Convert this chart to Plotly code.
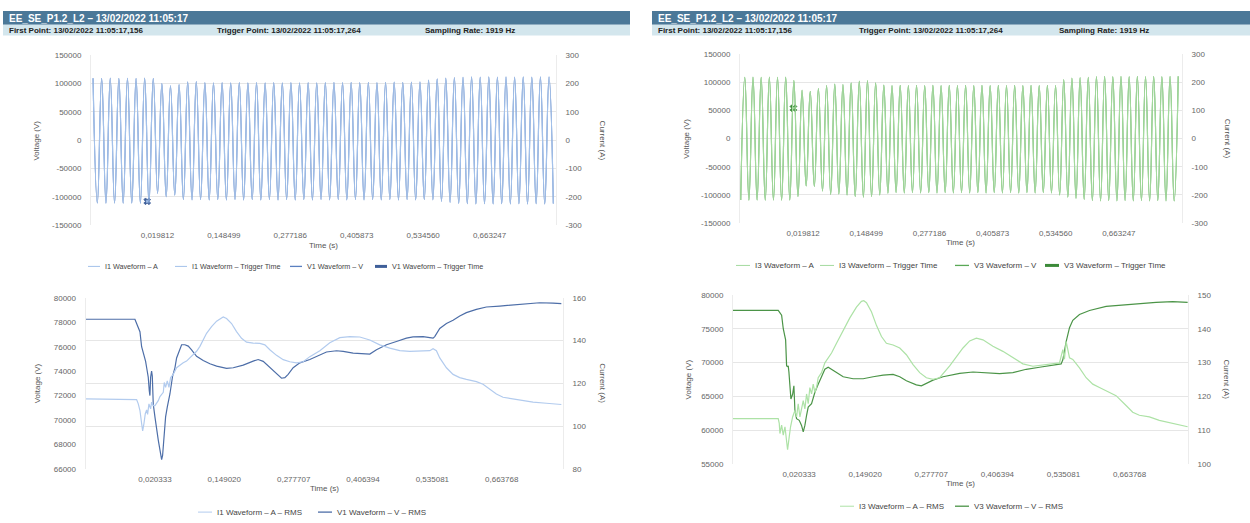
import plotly.graph_objects as go

W, H = 1250, 523
FONT = "Liberation Sans, Arial, sans-serif"

# ----------------------------------------------------------------------
# Instantaneous waveforms (60 Hz).  Each list holds the value of every
# successive crest / trough; the trace is a smooth spline through them.
# ----------------------------------------------------------------------
HALF_PERIOD = 1 / 120.0
P1_FIRST_EXTREMUM_T = -0.1049   # phase-1 record starts on a crest
P3_FIRST_EXTREMUM_T = -0.1074   # phase-3 record starts on a trough

v1_crests = [109000, 109000, 109500, 109000, 109200, 109000, 109400, 109000,
             100000, 96000, 98000, 103000, 103500,
             101500, 101000, 101500, 101000, 101500, 101000, 101500, 101000,
             101500, 101000, 101500, 101000, 101500, 101000,
             101500, 102000, 101500, 102000, 101500, 102000, 101500, 102000,
             102500, 102000, 102500,
             103000, 106000, 108000, 109500, 110500,
             111000, 111500, 111000, 111500, 111000, 111500, 111000, 111500,
             111000, 111500, 111500]
v1_troughs = [-111000, -111200, -111000, -111300, -111000, -111200, -111000,
              -94000, -100000, -97000, -105000,
              -105500, -105000, -105500, -105000, -105500, -105000, -105500,
              -105000, -105500, -105000, -105500, -105000, -105500, -105000,
              -105500, -105000, -105500, -105000, -105500, -105000, -105500,
              -105000, -105500, -105000, -105500, -105000, -105500, -105000,
              -105500,
              -108000, -110000, -111500, -112000, -112500, -112000, -112500,
              -112000, -112500, -112000, -112500, -112000, -112500, -112000]
i1_crests = [218, 218, 219, 218, 218.5, 218, 219, 218,
             200, 192, 196, 206, 207,
             203, 202, 203, 202, 203, 202, 203, 202, 203, 202, 203, 202, 203, 202,
             203, 204, 203, 204, 203, 204, 203, 204, 205, 204, 205,
             206, 212, 216, 219, 221,
             222, 223, 222, 223, 222, 223, 222, 223, 222, 223, 223]
i1_troughs = [-222, -222.4, -222, -222.6, -222, -222.4, -222,
              -188, -200, -194, -210,
              -211, -210, -211, -210, -211, -210, -211, -210, -211, -210,
              -211, -210, -211, -210, -211, -210, -211, -210, -211, -210,
              -211, -210, -211, -210, -211, -210, -211, -210, -211,
              -216, -220, -223, -224, -225, -224, -225, -224, -225, -224,
              -225, -224, -225, -224]

v3_troughs = [-109000, -109200, -109000, -109300, -109000, -109200, -109000,
              -103000, -84000, -85000, -93000, -99000, -98000, -100000,
              -103000, -104000, -103000, -100000, -97000,
              -96000, -96500, -96000, -96500, -96000, -96500, -96000, -96500,
              -96000, -96500, -96000, -96500, -96000, -96500, -96000, -96500,
              -96000, -96500, -96000, -96500,
              -100000, -104000, -106000, -108000,
              -110000, -110500, -110000, -110500, -110000, -110500, -110000,
              -110500, -110000, -110500, -110500]
v3_crests = [109000, 109200, 109000, 109300, 109000, 109200,
             103500, 86000, 84000, 89000, 94000, 97000, 96000, 99000, 102000,
             103000, 99000, 95000,
             94000, 94500, 94000, 94500, 94000, 94500, 94000, 94500, 94000,
             94500, 94000, 94500, 94000, 94500, 94000, 94500, 94000, 94500,
             94000, 94500, 94000,
             105000, 107500, 108500, 109000,
             110000, 110500, 110000, 110500, 110000, 110500, 110000, 110500,
             110000, 110500, 110500]
i3_troughs = [-218, -218.4, -218, -218.6, -218, -218.4, -218,
              -206, -168, -170, -186, -198, -196, -200, -206, -208, -206,
              -200, -194,
              -192, -193, -192, -193, -192, -193, -192, -193, -192, -193,
              -192, -193, -192, -193, -192, -193, -192, -193, -192, -193,
              -200, -208, -212, -216,
              -220, -221, -220, -221, -220, -221, -220, -221, -220, -221, -221]
i3_crests = [218, 218.4, 218, 218.6, 218, 218.4,
             207, 172, 168, 178, 188, 194, 192, 198, 204, 206, 198, 190,
             188, 189, 188, 189, 188, 189, 188, 189, 188, 189, 188, 189,
             188, 189, 188, 189, 188, 189, 188, 189, 188,
             210, 215, 217, 218,
             220, 221, 220, 221, 220, 221, 220, 221, 220, 221, 221]

# trigger instant (s) and the sampled value shown there
trigger_t = 0.0
v1_trigger, i1_trigger = -108000, -216
v3_trigger, i3_trigger = 54000, 108

# ----------------------------------------------------------------------
# RMS values (time in s, value)
# ----------------------------------------------------------------------
v1_rms_t = [-0.1084, -0.06, -0.0168, -0.0137, -0.0106, -0.0075, -0.0044, -0.0013,
            0.0005, 0.0030, 0.0049, 0.0079, 0.0098, 0.0110, 0.0123, 0.0141, 0.0154,
            0.0172, 0.0203, 0.0234, 0.0265, 0.0296, 0.0327, 0.0345, 0.0370, 0.0401,
            0.0432, 0.0481, 0.0531, 0.0574, 0.0605, 0.0636, 0.0667, 0.0698, 0.0759,
            0.0821, 0.0883, 0.0976, 0.1099, 0.1223, 0.1347, 0.1532, 0.1656, 0.1841,
            0.2026, 0.2119, 0.2212, 0.2335, 0.2459, 0.2552, 0.2614, 0.2675, 0.2768,
            0.2892, 0.3077, 0.3263, 0.3386, 0.3572, 0.3696, 0.3881, 0.4066, 0.4190,
            0.4314, 0.4499, 0.4684, 0.4870, 0.4993, 0.5179, 0.5303, 0.5364, 0.5395,
            0.5488, 0.5612, 0.5735, 0.5859, 0.5982, 0.6168, 0.6353, 0.6601, 0.6848,
            0.7095, 0.7342, 0.7589, 0.7744]
v1_rms = [78250, 78250, 78250, 77900, 77500, 77230, 76000, 75500,
          75300, 74800, 74300, 73500, 72400, 72000, 73500, 74000, 73600,
          71300, 70250, 69170, 68360, 67560, 66750, 67100, 68630, 70250,
          71050, 72130, 73600, 74270, 75080, 75480, 75940, 76160, 76160,
          76050, 75750, 75220, 74870, 74600, 74410, 74220, 74280, 74490,
          74820, 74950, 74800, 74280, 73740, 73420, 73470, 73740, 74280,
          74680, 74950, 75350, 75570, 75670, 75620, 75480, 75400, 75400,
          75750, 76160, 76430, 76700, 76800, 76830, 76750, 76700, 76830,
          77500, 77900, 78170, 78520, 78790, 79060, 79250, 79330, 79440,
          79520, 79600, 79570, 79520]

i1_rms_t = [-0.1084, -0.06, -0.0137, -0.0106, -0.0075, -0.0044, -0.0025, -0.0001,
            0.0024, 0.0049, 0.0067, 0.0092, 0.0123, 0.0141, 0.0172, 0.0203, 0.0234,
            0.0265, 0.0296, 0.0327, 0.0358, 0.0376, 0.0401, 0.0432, 0.0463, 0.0494,
            0.0543, 0.0605, 0.0667, 0.0728, 0.0790, 0.0852, 0.0914, 0.0976, 0.1038,
            0.1099, 0.1161, 0.1254, 0.1347, 0.1439, 0.1470, 0.1532, 0.1625, 0.1717,
            0.1810, 0.1903, 0.2026, 0.2150, 0.2243, 0.2335, 0.2459, 0.2583, 0.2706,
            0.2830, 0.2954, 0.3077, 0.3263, 0.3448, 0.3634, 0.3819, 0.4005, 0.4190,
            0.4375, 0.4561, 0.4746, 0.4932, 0.5117, 0.5303, 0.5364, 0.5426, 0.5488,
            0.5612, 0.5735, 0.5859, 0.5982, 0.6168, 0.6291, 0.6415, 0.6539, 0.6662,
            0.6848, 0.7033, 0.7219, 0.7466, 0.7744]
i1_rms = [112.7, 112.7, 112.4, 110.4, 107.3, 101.2, 97.8, 101.2,
          105.8, 107.6, 105.5, 110.4, 108.1, 111.2, 109.6, 109.6, 110.7,
          111.9, 113.8, 114.7, 115.8, 120.4, 118.1, 121.2, 118.1, 122.7,
          124.2, 127.3, 128.5, 129.6, 130.4, 131.9, 133.4, 135.0, 137.3,
          140.3, 143.4, 146.5, 149.1, 150.6, 151.1, 150.3, 148.0, 144.2,
          141.1, 139.3, 138.8, 138.7, 138.0, 135.7, 133.1, 131.1, 130.1,
          129.6, 130.1, 132.5, 135.3, 139.0, 141.4, 141.9, 141.7, 140.3,
          138.0, 136.5, 135.3, 135.0, 135.0, 135.3, 136.2, 135.3, 131.9,
          127.3, 124.2, 122.7, 121.9, 120.8, 119.6, 117.3, 115.0, 113.5,
          112.7, 111.9, 111.2, 110.7, 110.1]

v3_rms_t = [-0.1083, -0.06, -0.0203, -0.0137, -0.0105, -0.0059, -0.0040, -0.0021,
            -0.0008, 0.0005, 0.0044, 0.0077, 0.0102, 0.0122, 0.0154, 0.0206, 0.0251,
            0.0284, 0.0316, 0.0349, 0.0381, 0.0446, 0.0511, 0.0575, 0.0640, 0.0705,
            0.0770, 0.0835, 0.0932, 0.1062, 0.1255, 0.1450, 0.1645, 0.1839, 0.2033,
            0.2163, 0.2292, 0.2486, 0.2584, 0.2681, 0.2811, 0.3005, 0.3199, 0.3329,
            0.3589, 0.3912, 0.4107, 0.4366, 0.4625, 0.4884, 0.5209, 0.5305, 0.5338,
            0.5403, 0.5468, 0.5532, 0.5662, 0.5857, 0.6181, 0.6505, 0.6828, 0.7153,
            0.7476, 0.7768]
v3_rms = [77700, 77750, 77700, 77000, 75000, 73350, 69500, 69400,
          69500, 68600, 64600, 65300, 66550, 62900, 61700, 61450, 60700,
          59750, 60700, 62200, 63400, 63900, 65600, 66800, 68000, 69000,
          69300, 69000, 68500, 67900, 67600, 67600, 67900, 68150, 68250,
          67900, 67300, 66700, 66550, 66900, 67400, 67900, 68200, 68400,
          68600, 68500, 68350, 68500, 69000, 69300, 69600, 69800, 70400,
          73100, 75150, 76250, 77100, 77700, 78300, 78500, 78800, 78900,
          79000, 78900]

i3_rms_t = [-0.1083, -0.06, -0.0203, -0.0183, -0.0170, -0.0137, -0.0105, -0.0072,
            -0.0040, -0.0021, 0.0011, 0.0037, 0.0077, 0.0122, 0.0154, 0.0186, 0.0219,
            0.0251, 0.0284, 0.0316, 0.0349, 0.0381, 0.0413, 0.0446, 0.0478, 0.0511,
            0.0543, 0.0575, 0.0640, 0.0705, 0.0770, 0.0835, 0.0932, 0.1062, 0.1191,
            0.1320, 0.1417, 0.1463, 0.1515, 0.1612, 0.1709, 0.1807, 0.1903, 0.2033,
            0.2163, 0.2292, 0.2422, 0.2551, 0.2681, 0.2811, 0.2940, 0.3135, 0.3265,
            0.3394, 0.3524, 0.3654, 0.3783, 0.3977, 0.4171, 0.4366, 0.4560, 0.4755,
            0.4884, 0.5079, 0.5273, 0.5338, 0.5370, 0.5403, 0.5435, 0.5468, 0.5532,
            0.5662, 0.5792, 0.5921, 0.6051, 0.6181, 0.6375, 0.6569, 0.6699, 0.6828,
            0.7023, 0.7217, 0.7476, 0.7768]
i3_rms = [113.4, 113.5, 113.4, 112.0, 109.0, 111.5, 108.5, 111.0,
          106.0, 104.2, 108.0, 111.0, 113.9, 115.8, 113.9, 117.8, 113.9,
          116.8, 118.7, 116.3, 120.7, 117.8, 122.6, 120.7, 123.6, 121.2,
          122.6, 125.5, 127.0, 129.9, 131.4, 132.8, 135.7, 139.6, 143.2,
          146.4, 148.1, 148.3, 147.7, 145.0, 141.0, 137.7, 135.7, 135.2,
          134.3, 132.3, 129.4, 127.0, 125.5, 125.0, 125.5, 129.0, 131.8,
          134.3, 136.4, 137.2, 136.7, 134.8, 133.3, 131.4, 129.6, 128.9,
          129.2, 129.6, 129.9, 133.8, 131.0, 136.2, 134.0, 131.4, 130.9,
          128.4, 125.5, 123.6, 122.6, 121.6, 120.2, 117.3, 115.3, 114.4,
          113.9, 112.9, 111.9, 111.0]

# ----------------------------------------------------------------------
# Axis ticks and labels
# ----------------------------------------------------------------------
wave_x_range = [-0.108875, 0.791934]
wave_x_ticks = [0.019812, 0.148499, 0.277186, 0.405873, 0.534560, 0.663247]
wave_x_labels = ["0,019812", "0,148499", "0,277186", "0,405873", "0,534560", "0,663247"]
rms_x_range = [-0.108354, 0.7775]
rms_x_ticks = [0.020333, 0.149020, 0.277707, 0.406394, 0.535081, 0.663768]
rms_x_labels = ["0,020333", "0,149020", "0,277707", "0,406394", "0,535081", "0,663768"]

wave_v_ticks = [-150000, -100000, -50000, 0, 50000, 100000, 150000]
wave_a_ticks = [-300, -200, -100, 0, 100, 200, 300]
p1_rms_v_ticks = [66000, 68000, 70000, 72000, 74000, 76000, 78000, 80000]
p1_rms_a_ticks = [80, 100, 120, 140, 160]
p3_rms_v_ticks = [55000, 60000, 65000, 70000, 75000, 80000]
p3_rms_a_ticks = [100, 110, 120, 130, 140, 150]

# colours
BLUE_LIGHT, BLUE_DARK = "#a3c1ea", "#5b80c0"
BLUE_RMS_LIGHT, BLUE_RMS_DARK = "#b2cbee", "#4d6ea8"
GREEN_LIGHT, GREEN_DARK = "#a4da9e", "#5aa856"
GREEN_RMS_LIGHT, GREEN_RMS_DARK = "#ade2a6", "#4b9447"
HEADER_DARK, HEADER_LIGHT = "#4b7898", "#d3e6ed"
GRID = "#e6e6e6"


def alternate(first, second):
    seq = []
    for a, b in zip(first, second):
        seq += [a, b]
    return seq


def px_x(p):
    return p / W


def px_y(p):
    return 1 - p / H


p1_v_wave = alternate(v1_crests, v1_troughs)
p1_i_wave = alternate(i1_crests, i1_troughs)
p1_t_wave = [round(P1_FIRST_EXTREMUM_T + k * HALF_PERIOD, 6) for k in range(len(p1_v_wave))]
p3_v_wave = alternate(v3_troughs, v3_crests)
p3_i_wave = alternate(i3_troughs, i3_crests)
p3_t_wave = [round(P3_FIRST_EXTREMUM_T + k * HALF_PERIOD, 6) for k in range(len(p3_v_wave))]

fig = go.Figure()


def line(x, y, xa, ya, color, width, shape="linear"):
    ln = dict(color=color, width=width, shape=shape)
    if shape == "spline":
        ln["smoothing"] = 1.3
    fig.add_trace(go.Scatter(x=x, y=y, xaxis=xa, yaxis=ya, mode="lines",
                             line=ln, showlegend=False, hoverinfo="skip"))


def marker(x, y, xa, ya, color, size=6):
    fig.add_trace(go.Scatter(x=[x], y=[y], xaxis=xa, yaxis=ya, mode="markers",
                             marker=dict(symbol="x", size=size, color=color,
                                         line=dict(width=0.8, color=color)),
                             showlegend=False, hoverinfo="skip"))


# phase 1 — waveforms
line(p1_t_wave, p1_i_wave, "x", "y2", BLUE_LIGHT, 1.2, "spline")
line(p1_t_wave, p1_v_wave, "x", "y", BLUE_DARK, 1.1, "spline")
marker(trigger_t, i1_trigger, "x", "y2", BLUE_LIGHT, 2)
marker(trigger_t, v1_trigger, "x", "y", "#3f5f99")
# phase 1 — RMS
line(v1_rms_t, v1_rms, "x2", "y3", BLUE_RMS_DARK, 1.2)
line(i1_rms_t, i1_rms, "x2", "y4", BLUE_RMS_LIGHT, 1.2)
# phase 3 — waveforms
line(p3_t_wave, p3_i_wave, "x3", "y6", GREEN_LIGHT, 1.2, "spline")
line(p3_t_wave, p3_v_wave, "x3", "y5", GREEN_DARK, 1.1, "spline")
marker(trigger_t, i3_trigger, "x3", "y6", GREEN_LIGHT, 2)
marker(trigger_t, v3_trigger, "x3", "y5", "#3c8a39")
# phase 3 — RMS
line(v3_rms_t, v3_rms, "x4", "y7", GREEN_RMS_DARK, 1.2)
line(i3_rms_t, i3_rms, "x4", "y8", GREEN_RMS_LIGHT, 1.2)

TICKFONT = dict(family=FONT, size=8, color="#666666")


def xaxis(left, right, rng, vals, labels, anchor):
    return dict(domain=[px_x(left), px_x(right)], range=rng, tickvals=vals,
                ticktext=labels, showgrid=False, zeroline=False, showline=False,
                ticks="", tickfont=TICKFONT, anchor=anchor, ticklabelstandoff=4,
                fixedrange=True)


def yaxis(top, bottom, rng, vals, grid, anchor, side="left", overlaying=None):
    ax = dict(range=rng, tickvals=vals, ticktext=[str(v) for v in vals],
              showgrid=grid, gridcolor=GRID, gridwidth=1, zeroline=False,
              showline=True, linecolor="#ececec", linewidth=1, ticks="",
              tickfont=TICKFONT, anchor=anchor, side=side, ticklabelstandoff=7,
              fixedrange=True)
    if overlaying:
        ax["overlaying"] = overlaying
    else:
        ax["domain"] = [px_y(bottom), px_y(top)]
    return ax


layout = dict(
    width=W, height=H, margin=dict(l=0, r=0, t=0, b=0),
    paper_bgcolor="white", plot_bgcolor="white", showlegend=False,
    font=dict(family=FONT, size=8, color="#555555"),
    xaxis=xaxis(91, 556, wave_x_range, wave_x_ticks, wave_x_labels, "y"),
    yaxis=yaxis(52, 225, [-150000, 150000], wave_v_ticks, True, "x"),
    yaxis2=yaxis(52, 225, [-300, 300], wave_a_ticks, False, "x", "right", "y"),
    xaxis2=xaxis(85.6, 563, rms_x_range, rms_x_ticks, rms_x_labels, "y3"),
    yaxis3=yaxis(299, 473, [66000, 80000], p1_rms_v_ticks, False, "x2"),
    yaxis4=yaxis(299, 473, [80, 160], p1_rms_a_ticks, True, "x2", "right", "y3"),
    xaxis3=xaxis(740, 1182, wave_x_range, wave_x_ticks, wave_x_labels, "y5"),
    yaxis5=yaxis(51, 223, [-150000, 150000], wave_v_ticks, True, "x3"),
    yaxis6=yaxis(51, 223, [-300, 300], wave_a_ticks, False, "x3", "right", "y5"),
    xaxis4=xaxis(733, 1188, rms_x_range, rms_x_ticks, rms_x_labels, "y7"),
    yaxis7=yaxis(296, 468, [55000, 80000], p3_rms_v_ticks, True, "x4"),
    yaxis8=yaxis(296, 468, [100, 150], p3_rms_a_ticks, False, "x4", "right", "y7"),
)

shapes, annotations = [], []


def text(x, y, s, size=8, color="#555555", bold=False, angle=0, anchor="center"):
    annotations.append(dict(x=px_x(x), y=px_y(y), xref="paper", yref="paper",
                            text=f"<b>{s}</b>" if bold else s, showarrow=False,
                            textangle=angle, xanchor=anchor, yanchor="middle",
                            font=dict(family=FONT, size=size, color=color)))


def rect(x0, y0, x1, y1, color):
    shapes.append(dict(type="rect", xref="paper", yref="paper", x0=px_x(x0),
                       x1=px_x(x1), y0=px_y(y1), y1=px_y(y0), fillcolor=color,
                       line=dict(width=0), layer="below"))


def legend_item(x, y, label, color, width, size=8, gap=17, length=14):
    shapes.append(dict(type="line", xref="paper", yref="paper", x0=px_x(x),
                       x1=px_x(x + length), y0=px_y(y), y1=px_y(y),
                       line=dict(color=color, width=width)))
    text(x + gap, y, label, size=size, color="#444444", anchor="left")


# header bars
TITLE = "EE_SE_P1.2_L2 – 13/02/2022 11:05:17"
FIRST = "First Point: 13/02/2022 11:05:17,156"
TRIG = "Trigger Point: 13/02/2022 11:05:17,264"
RATE = "Sampling Rate: 1919 Hz"
for x0, x1, trig_dx, rate_dx in [(3, 630, 212, 420), (652, 1250, 205, 405)]:
    rect(x0, 7, x1, 21, HEADER_DARK)
    rect(x0, 21, x1, 32, HEADER_LIGHT)
    text(x0 + 4, 14.5, TITLE, size=10, color="white", bold=True, anchor="left")
    text(x0 + 4, 27, FIRST, size=8, color="#222222", bold=True, anchor="left")
    text(x0 + trig_dx, 27, TRIG, size=8, color="#222222", bold=True, anchor="left")
    text(x0 + rate_dx, 27, RATE, size=8, color="#222222", bold=True, anchor="left")

# axis titles
for xl, xr, yc, xt, yt in [(37, 602, 139, 323, 246), (37, 603, 386, 324, 493),
                           (687, 1227, 137, 960, 243), (688, 1227, 382, 960, 488)]:
    text(xl, yc, "Voltage (V)", angle=-90)
    text(xr, yc, "Current (A)", angle=90)
    text(xt, yt, "Time (s)")

# legends
legend_item(88, 267, "I1 Waveform – A", BLUE_LIGHT, 1, 7.2, 15, 12)
legend_item(175, 267, "I1 Waveform – Trigger Time", BLUE_LIGHT, 1, 7.2, 15, 12)
legend_item(290, 267, "V1 Waveform – V", BLUE_DARK, 1.3, 7.2, 15, 12)
legend_item(375, 267, "V1 Waveform – Trigger Time", "#3f5f99", 3, 7.2, 15, 12)
legend_item(198, 517, "I1 Waveform – A – RMS", BLUE_RMS_LIGHT, 1)
legend_item(318, 517, "V1 Waveform – V – RMS", BLUE_RMS_DARK, 1.3)
legend_item(736, 266, "I3 Waveform – A", GREEN_LIGHT, 1)
legend_item(820, 266, "I3 Waveform – Trigger Time", GREEN_LIGHT, 1)
legend_item(955, 266, "V3 Waveform – V", GREEN_DARK, 1.3)
legend_item(1045, 266, "V3 Waveform – Trigger Time", "#3c8a39", 3)
legend_item(840, 511, "I3 Waveform – A – RMS", GREEN_RMS_LIGHT, 1)
legend_item(955, 511, "V3 Waveform – V – RMS", GREEN_RMS_DARK, 1.3)

layout["shapes"] = shapes
layout["annotations"] = annotations
fig.update_layout(**layout)
fig.write_html("out.html")
